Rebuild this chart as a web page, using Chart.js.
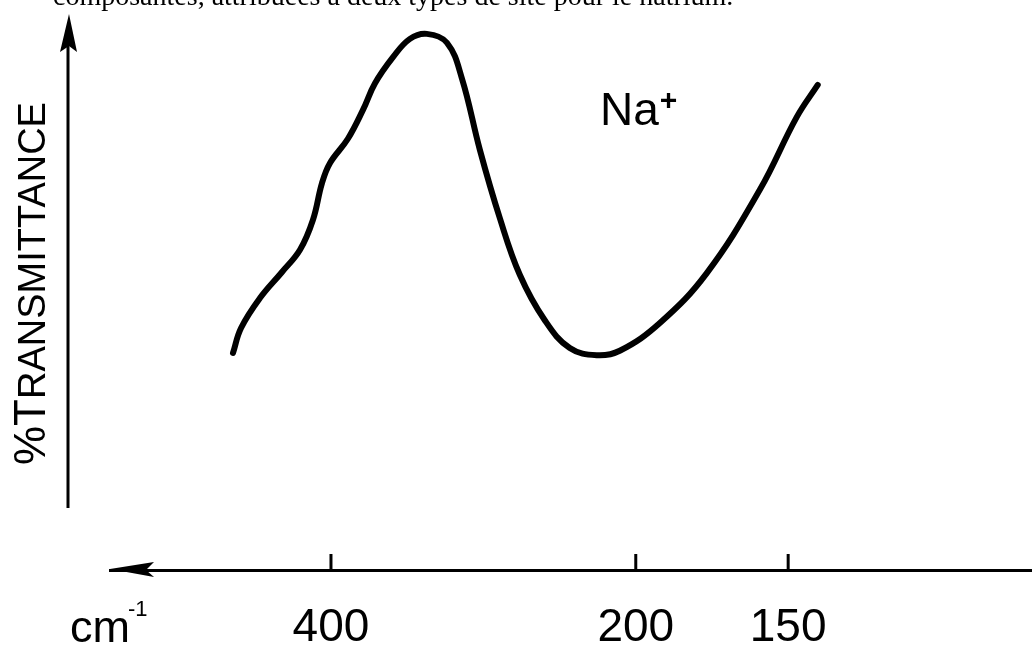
<!DOCTYPE html>
<html>
<head>
<meta charset="utf-8">
<script src="https://cdn.jsdelivr.net/npm/chart.js@4"></script>
<style>
  html, body { margin: 0; padding: 0; background: #fff; }
  #wrap { width: 1032px; height: 654px; position: relative; }
</style>
</head>
<body>
<div id="wrap"><canvas id="myChart"></canvas></div>
<script>
// spectre IR (Na+), nombre d'onde en cm-1 et %T
const wavenumbers = [464.3, 459, 446.6, 432.1, 420.3, 411.8, 405.9, 400.7, 388.9, 379, 371.1, 359.3, 348.2, 337.1, 323.9, 314.1, 302.3, 289.2, 276.1, 259.7, 243.3, 225.6, 210.5, 192.1, 176.7, 159.3, 147.2, 140.3];
const transmittance = [39.1, 43.6, 49.0, 53.7, 57.7, 63.1, 69.7, 73.3, 77.7, 82.9, 87.7, 92.4, 95.7, 96.6, 95.0, 88.6, 75.7, 63.4, 53.2, 45.0, 40.0, 38.7, 39.5, 44.5, 53.5, 68.5, 81.6, 87.4];
const tickWavenumbers = [400, 200, 150];
const tickLabels = ['400', '200', '150'];
const axisRange = [545, 70]; // bords de l'axe en cm-1
const ionLabel = 'Na';
const yTitle = ['%T', 'RANSMITTANCE'];
const caption = 'composantes, attribuées à deux types de site pour le natrium.';

// l'échelle double en dessous de 200 cm-1
function pos(w) {
    return w >= 200 ? 400 - w : 200 + (200 - w) * 2;
}

const FONT = "'Liberation Sans', Arial, sans-serif";

const decor = {
    id: 'decor',
    afterDraw(chart) {
        const ctx = chart.ctx;
        const area = chart.chartArea;
        const xs = chart.scales.x;
        const axisY = area.bottom;
        ctx.save();
        ctx.fillStyle = '#000';
        ctx.strokeStyle = '#000';

        // fleche axe x (vers la gauche)
        ctx.beginPath();
        ctx.moveTo(area.left, axisY - 1);
        ctx.lineTo(area.left + 44, axisY - 8);
        ctx.lineTo(area.left + 36, axisY);
        ctx.lineTo(area.left + 44, axisY + 7);
        ctx.closePath();
        ctx.fill();

        // graduations vers le haut
        ctx.lineWidth = 3;
        xs.ticks.forEach(t => {
            const x = xs.getPixelForValue(t.value);
            ctx.beginPath();
            ctx.moveTo(x, axisY);
            ctx.lineTo(x, axisY - 16);
            ctx.stroke();
        });

        // axe y (fleche libre)
        const yx = area.left - 42;
        ctx.lineWidth = 3;
        ctx.beginPath();
        ctx.moveTo(yx, axisY - 62);
        ctx.lineTo(yx, area.top + 30);
        ctx.stroke();
        ctx.beginPath();
        ctx.moveTo(yx + 1, area.top - 1);
        ctx.lineTo(yx + 9, area.top + 37);
        ctx.lineTo(yx + 1, area.top + 31);
        ctx.lineTo(yx - 8, area.top + 37);
        ctx.closePath();
        ctx.fill();

        // titre y en petites capitales
        ctx.save();
        ctx.translate(45, 465);
        ctx.rotate(-Math.PI / 2);
        ctx.textBaseline = 'alphabetic';
        ctx.font = '44px ' + FONT;
        ctx.fillText(yTitle[0], 0, 0);
        const w0 = ctx.measureText(yTitle[0]).width;
        ctx.font = '38px ' + FONT;
        ctx.fillText(yTitle[1], w0, 0);
        ctx.restore();

        // unite
        ctx.font = '45px ' + FONT;
        ctx.fillText('cm', 70, 642);
        const wc = ctx.measureText('cm').width;
        ctx.font = '22px ' + FONT;
        ctx.fillText('-1', 70 + wc - 2, 616);

        // Na+
        ctx.font = '46px ' + FONT;
        ctx.fillText(ionLabel, 600, 125);
        const wn = ctx.measureText(ionLabel).width;
        ctx.font = 'bold 30px ' + FONT;
        ctx.fillText('+', 600 + wn + 1, 110);

        // legende coupee en haut de la page
        ctx.font = '28px "Liberation Serif", "Times New Roman", serif';
        ctx.fillText(caption, 53, 5);
        ctx.restore();
    }
};

const ctx = document.getElementById('myChart').getContext('2d');
new Chart(ctx, {
    type: 'line',
    data: {
        datasets: [{
            data: wavenumbers.map((w, i) => ({ x: pos(w), y: transmittance[i] })),
            borderColor: '#000',
            borderWidth: 6,
            borderCapStyle: 'round',
            borderJoinStyle: 'round',
            pointRadius: 0,
            tension: 0.4,
            fill: false
        }]
    },
    options: {
        responsive: true,
        maintainAspectRatio: false,
        animation: false,
        layout: { padding: { left: 110, right: 0, top: 15, bottom: 0 } },
        plugins: { legend: { display: false }, tooltip: { enabled: false } },
        scales: {
            x: {
                type: 'linear',
                min: pos(axisRange[0]),
                max: pos(axisRange[1]),
                grid: { display: false, drawTicks: false },
                border: { display: true, color: '#000', width: 3 },
                afterBuildTicks: s => { s.ticks = tickWavenumbers.map(w => ({ value: pos(w) })); },
                afterFit: s => { s.height = 84; },
                ticks: {
                    autoSkip: false,
                    maxRotation: 0,
                    padding: 31,
                    color: '#000',
                    font: { family: FONT, size: 46 },
                    callback: (v, i) => tickLabels[i]
                }
            },
            y: {
                display: false,
                min: 0,
                max: 100
            }
        }
    },
    plugins: [decor]
});
</script>
</body>
</html>
